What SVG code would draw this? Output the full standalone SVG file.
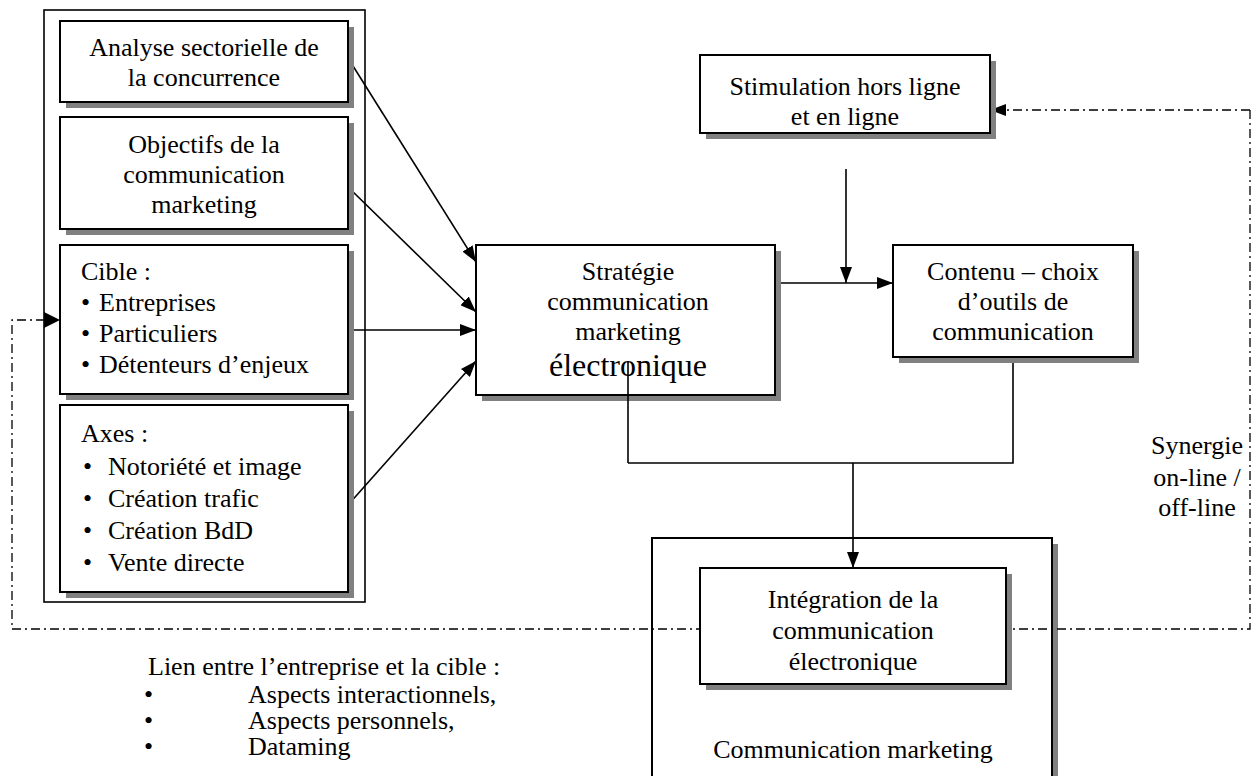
<svg xmlns="http://www.w3.org/2000/svg" width="1253" height="776" viewBox="0 0 1253 776">
<style>
text{font-family:"Liberation Serif","Times New Roman",serif;font-size:26px;fill:#000}
.c{text-anchor:middle}
.box{fill:#fff;stroke:#000;stroke-width:2}
.sh{fill:#808080}
.ln{fill:none;stroke:#000;stroke-width:1.6}
.dd{fill:none;stroke:#000;stroke-width:1.3;stroke-dasharray:9 4 2 4}
</style>
<defs>
<marker id="ah" viewBox="0 0 16 12" refX="16" refY="6" markerWidth="16" markerHeight="12" markerUnits="userSpaceOnUse" orient="auto">
<path d="M0,0 L16,6 L0,12 Z" fill="#000"/>
</marker>
</defs>
<rect width="1253" height="776" fill="#fff"/>

<g id="frame-left">
<rect x="44" y="10" width="321" height="592" fill="none" stroke="#000" stroke-width="1.6"/>
</g>

<g id="comm-marketing">
<rect class="sh" x="658" y="544" width="400" height="240"/>
<rect class="box" x="652" y="538" width="400" height="250"/>
<text class="c" x="853" y="758">Communication marketing</text>
</g>

<g id="connectors">
<line class="ln" x1="348" y1="58" x2="476" y2="262" marker-end="url(#ah)"/>
<line class="ln" x1="348" y1="187" x2="476" y2="312" marker-end="url(#ah)"/>
<line class="ln" x1="348" y1="330" x2="476" y2="330" marker-end="url(#ah)"/>
<line class="ln" x1="348" y1="505" x2="476" y2="361" marker-end="url(#ah)"/>
<line class="ln" x1="775" y1="283" x2="893" y2="283" marker-end="url(#ah)"/>
<line class="ln" x1="846" y1="169" x2="846" y2="283" marker-end="url(#ah)"/>
<polyline class="ln" points="1013,357 1013,463 628,463"/>
<line class="ln" x1="853" y1="463" x2="853" y2="568" marker-end="url(#ah)"/>
<polyline class="dd" points="1250,110 1250,629 12,629 12,320 44,320"/>
<line class="dd" x1="1250" y1="110" x2="1006" y2="110"/>
<path d="M1006,104 L990,110 L1006,116 Z" fill="#000"/>
<path d="M44,312 L60,320 L44,328 Z" fill="#000"/>
</g>

<g id="analyse">
<rect class="sh" x="66" y="27" width="288" height="81"/>
<rect class="box" x="60" y="21" width="288" height="81"/>
<text class="c" x="204" y="56">Analyse sectorielle de</text>
<text class="c" x="204" y="86">la concurrence</text>
</g>

<g id="objectifs">
<rect class="sh" x="66" y="123" width="288" height="112"/>
<rect class="box" x="60" y="117" width="288" height="112"/>
<text class="c" x="204" y="153">Objectifs de la</text>
<text class="c" x="204" y="183">communication</text>
<text class="c" x="204" y="213">marketing</text>
</g>

<g id="cible">
<rect class="sh" x="66" y="251" width="288" height="149"/>
<rect class="box" x="60" y="245" width="288" height="149"/>
<text x="81" y="280">Cible :</text>
<text x="81" y="311">•</text><text x="99" y="311">Entreprises</text>
<text x="81" y="342">•</text><text x="99" y="342">Particuliers</text>
<text x="81" y="373">•</text><text x="99" y="373">Détenteurs d’enjeux</text>
</g>

<g id="axes">
<rect class="sh" x="66" y="411" width="288" height="187"/>
<rect class="box" x="60" y="405" width="288" height="187"/>
<text x="81" y="442">Axes :</text>
<text x="83" y="475">•</text><text x="108" y="475">Notoriété et image</text>
<text x="83" y="507">•</text><text x="108" y="507">Création trafic</text>
<text x="83" y="539">•</text><text x="108" y="539">Création BdD</text>
<text x="83" y="571">•</text><text x="108" y="571">Vente directe</text>
</g>

<g id="strategie">
<rect class="sh" x="482" y="251" width="299" height="150"/>
<rect class="box" x="476" y="245" width="299" height="150"/>
<text class="c" x="628" y="280">Stratégie</text>
<text class="c" x="628" y="310">communication</text>
<text class="c" x="628" y="340">marketing</text>
<text class="c" x="628" y="376" style="font-size:32px">électronique</text>
<line class="ln" x1="628" y1="362" x2="628" y2="463"/>
</g>

<g id="stimulation">
<rect class="sh" x="706" y="61" width="290" height="78"/>
<rect class="box" x="700" y="55" width="290" height="78"/>
<text class="c" x="845" y="95">Stimulation hors ligne</text>
<text class="c" x="845" y="125">et en ligne</text>
</g>

<g id="contenu">
<rect class="sh" x="899" y="251" width="240" height="112"/>
<rect class="box" x="893" y="245" width="240" height="112"/>
<text class="c" x="1013" y="280">Contenu – choix</text>
<text class="c" x="1013" y="310">d’outils de</text>
<text class="c" x="1013" y="340">communication</text>
</g>

<g id="integration">
<rect class="sh" x="706" y="574" width="306" height="116"/>
<rect class="box" x="700" y="568" width="306" height="116"/>
<text class="c" x="853" y="608">Intégration de la</text>
<text class="c" x="853" y="639">communication</text>
<text class="c" x="853" y="670">électronique</text>
</g>

<g id="synergie">
<text class="c" x="1197" y="454">Synergie</text>
<text class="c" x="1197" y="486">on-line /</text>
<text class="c" x="1197" y="516">off-line</text>
</g>

<g id="lien">
<text x="148" y="675">Lien entre l’entreprise et la cible :</text>
<text x="144" y="703">•</text><text x="248" y="703">Aspects interactionnels,</text>
<text x="144" y="729">•</text><text x="248" y="729">Aspects personnels,</text>
<text x="144" y="755">•</text><text x="248" y="755">Dataming</text>
</g>
</svg>
